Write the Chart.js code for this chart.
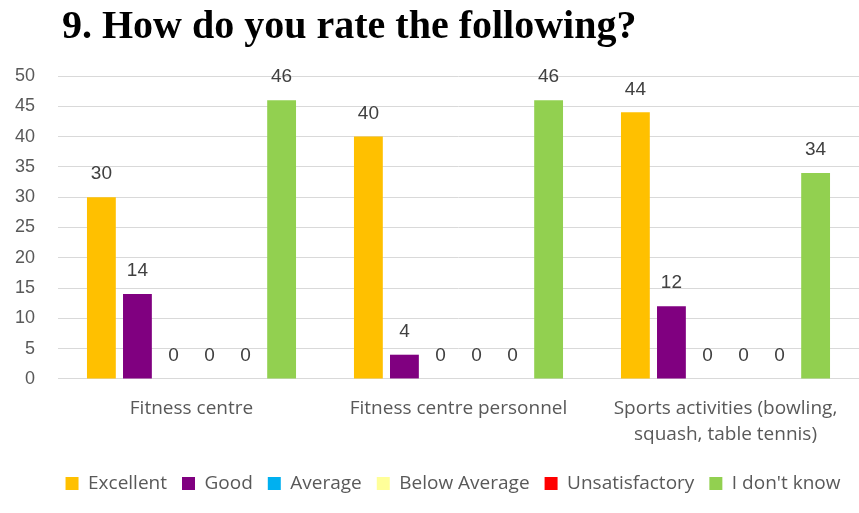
<!DOCTYPE html>
<html>
<head>
<meta charset="utf-8">
<script src="https://cdn.jsdelivr.net/npm/chart.js@4.4.1/dist/chart.umd.min.js"></script>
<style>
    html, body { margin: 0; padding: 0; background: #fff; }
    #wrap { position: relative; width: 859px; height: 513px; }
    #title {
        position: absolute; left: 62px; top: 1px;
        font-family: "Liberation Serif", "Times New Roman", serif;
        font-weight: bold; font-size: 40px; color: #000;
        white-space: nowrap;
    }
    canvas { position: absolute; left: 0; top: 0; }
</style>
</head>
<body>
<div id="wrap">
    <canvas id="rating-chart" width="859" height="513"></canvas>
    <div id="title">9. How do you rate the following?</div>
</div>
<script>
// Survey categories and answer counts
const categories = [
    'Fitness centre',
    'Fitness centre personnel',
    ['Sports activities (bowling,', 'squash, table tennis)']
];
const excellent = [30, 40, 44];
const good = [14, 4, 12];
const average = [0, 0, 0];
const belowAverage = [0, 0, 0];
const unsatisfactory = [0, 0, 0];
const dontKnow = [46, 46, 34];
const yTicks = [0, 5, 10, 15, 20, 25, 30, 35, 40, 45, 50];

const textColor = '#595959';
const labelFont = '"Open Sans", "Noto Sans", sans-serif';

// Writes the value above each bar
const valueLabels = {
    id: 'valueLabels',
    afterDatasetsDraw(chart) {
        const ctx = chart.ctx;
        ctx.save();
        ctx.font = '19px "Liberation Sans", Arial, sans-serif';
        ctx.fillStyle = '#404040';
        ctx.textAlign = 'center';
        ctx.textBaseline = 'middle';
        chart.data.datasets.forEach((ds, i) => {
            const meta = chart.getDatasetMeta(i);
            meta.data.forEach((bar, j) => {
                ctx.fillText(String(ds.data[j]), bar.x, bar.y - 23);
            });
        });
        ctx.restore();
    }
};

// Nudges the legend row to the right
const legendShift = {
    id: 'legendShift',
    afterLayout(chart) {
        chart.legend.left += 21;
        chart.legend.right += 21;
    }
};

function makeDataset(label, data, color) {
    return {
        label: label,
        data: data,
        backgroundColor: color,
        borderWidth: 0,
        barPercentage: 0.8,
        categoryPercentage: 0.81
    };
}

const ctx = document.getElementById('rating-chart').getContext('2d');

const ratingChart = new Chart(ctx, {
    type: 'bar',
    data: {
        labels: categories,
        datasets: [
            makeDataset('Excellent', excellent, '#FFC000'),
            makeDataset('Good', good, '#800080'),
            makeDataset('Average', average, '#00B0F0'),
            makeDataset('Below Average', belowAverage, '#FFFF99'),
            makeDataset('Unsatisfactory', unsatisfactory, '#FF0000'),
            makeDataset("I don't know", dontKnow, '#92D050')
        ]
    },
    options: {
        responsive: false,
        animation: false,
        layout: {
            padding: { top: 76, left: 0, right: -5, bottom: 10 }
        },
        plugins: {
            legend: {
                position: 'bottom',
                labels: {
                    boxWidth: 13,
                    boxHeight: 13,
                    padding: 15,
                    color: textColor,
                    font: { family: labelFont, size: 19 }
                }
            },
            tooltip: { enabled: false }
        },
        scales: {
            x: {
                grid: { display: false },
                border: { color: '#d9d9d9', width: 1 },
                afterFit(scale) {
                    scale.height += 2;
                },
                ticks: {
                    color: textColor,
                    padding: 9,
                    maxRotation: 0,
                    autoSkip: false,
                    font: { family: labelFont, size: 19, lineHeight: 1.37 }
                }
            },
            y: {
                min: 0,
                max: 50,
                afterBuildTicks(axis) {
                    axis.ticks = yTicks.map(v => ({ value: v }));
                },
                afterFit(scale) {
                    scale.width = 58;
                },
                grid: { color: '#d9d9d9', drawTicks: false },
                border: { display: false },
                ticks: {
                    color: textColor,
                    padding: 23,
                    font: { family: '"Liberation Sans", Arial, sans-serif', size: 18 }
                }
            }
        }
    },
    plugins: [valueLabels, legendShift]
});
</script>
</body>
</html>
